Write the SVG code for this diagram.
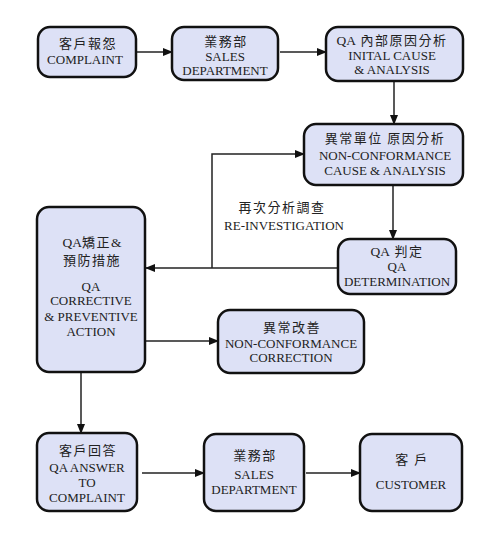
<svg xmlns="http://www.w3.org/2000/svg" width="500" height="533" viewBox="0 0 500 533">
<defs>
<marker id="ah" markerWidth="10" markerHeight="8" refX="9" refY="4" orient="auto" markerUnits="userSpaceOnUse">
<path d="M0,0 L10,4 L0,8 Z" fill="#111"/>
</marker>
<style>
.box{fill:#dde1f6;stroke:#111;stroke-width:2.5}
.en{font-family:"Liberation Serif","Noto Serif",serif;font-size:13px;fill:#222;text-anchor:middle}
.zh{font-family:"Noto Sans CJK TC","Noto Sans CJK SC",sans-serif;font-size:13px;fill:#222;text-anchor:middle;letter-spacing:1.5px}
.q{font-family:"Liberation Serif",serif;font-size:13.5px;letter-spacing:0}
.ar{fill:none;stroke:#222;stroke-width:1.5;marker-end:url(#ah)}
</style>
</defs>
<rect width="500" height="533" fill="#fff"/>
<g id="connectors">
<line class="ar" x1="136" y1="52" x2="172" y2="52"/>
<line class="ar" x1="280" y1="52" x2="326" y2="52"/>
<line class="ar" x1="394" y1="81" x2="394" y2="124"/>
<line class="ar" x1="393" y1="185" x2="393" y2="239"/>
<polyline class="ar" points="212,268 212,154 304,154"/>
<line class="ar" x1="338" y1="268" x2="146" y2="268"/>
<line class="ar" x1="145" y1="341" x2="218" y2="341"/>
<line class="ar" x1="81" y1="372" x2="81" y2="433"/>
<line class="ar" x1="142" y1="473" x2="204" y2="473"/>
<line class="ar" x1="306" y1="473" x2="360" y2="473"/>
<text class="zh" x="282" y="212">再次分析調查</text>
<text class="en" x="284" y="230">RE-INVESTIGATION</text>
</g>
<g id="complaint">
<rect class="box" x="38" y="27" width="98" height="50" rx="12"/>
<text class="zh" x="88" y="48">客戶報怨</text>
<text class="en" x="85" y="64">COMPLAINT</text>
</g>
<g id="sales1">
<rect class="box" x="172" y="27" width="106" height="53" rx="12"/>
<text class="zh" x="226" y="46">業務部</text>
<text class="en" x="225" y="61">SALES</text>
<text class="en" x="225" y="75">DEPARTMENT</text>
</g>
<g id="initial">
<rect class="box" x="326" y="27" width="137" height="54" rx="12"/>
<text class="zh" x="392" y="45"><tspan class="q">QA</tspan> 內部原因分析</text>
<text class="en" x="392" y="60">INITAL CAUSE</text>
<text class="en" x="392" y="74">&amp; ANALYSIS</text>
</g>
<g id="nccause">
<rect class="box" x="304" y="124" width="159" height="61" rx="12"/>
<text class="zh" x="385" y="143">異常單位 原因分析</text>
<text class="en" x="385" y="160">NON-CONFORMANCE</text>
<text class="en" x="385" y="175">CAUSE &amp; ANALYSIS</text>
</g>
<g id="qadet">
<rect class="box" x="338" y="239" width="118" height="55" rx="12"/>
<text class="zh" x="397" y="256"><tspan class="q">QA</tspan> 判定</text>
<text class="en" x="397" y="271">QA</text>
<text class="en" x="397" y="286">DETERMINATION</text>
</g>
<g id="corrective">
<rect class="box" x="37" y="207" width="108" height="165" rx="12"/>
<text class="zh" x="92" y="247"><tspan class="q">QA</tspan>矯正<tspan class="q">&amp;</tspan></text>
<text class="zh" x="92" y="265">預防措施</text>
<text class="en" x="91" y="291">QA</text>
<text class="en" x="91" y="305">CORRECTIVE</text>
<text class="en" x="91" y="321">&amp; PREVENTIVE</text>
<text class="en" x="91" y="336">ACTION</text>
</g>
<g id="nccorrection">
<rect class="box" x="218" y="310" width="146" height="63" rx="12"/>
<text class="zh" x="292" y="332">異常改善</text>
<text class="en" x="291" y="348">NON-CONFORMANCE</text>
<text class="en" x="291" y="362">CORRECTION</text>
</g>
<g id="answer">
<rect class="box" x="37" y="433" width="100" height="78" rx="12"/>
<text class="zh" x="88" y="455">客戶回答</text>
<text class="en" x="87" y="472">QA ANSWER</text>
<text class="en" x="87" y="487">TO</text>
<text class="en" x="87" y="502">COMPLAINT</text>
</g>
<g id="sales2">
<rect class="box" x="204" y="434" width="100" height="77" rx="12"/>
<text class="zh" x="255" y="460">業務部</text>
<text class="en" x="254" y="479">SALES</text>
<text class="en" x="254" y="494">DEPARTMENT</text>
</g>
<g id="customer">
<rect class="box" x="360" y="434" width="102" height="77" rx="12"/>
<text class="zh" x="412" y="464">客 戶</text>
<text class="en" x="411" y="489">CUSTOMER</text>
</g>
</svg>
